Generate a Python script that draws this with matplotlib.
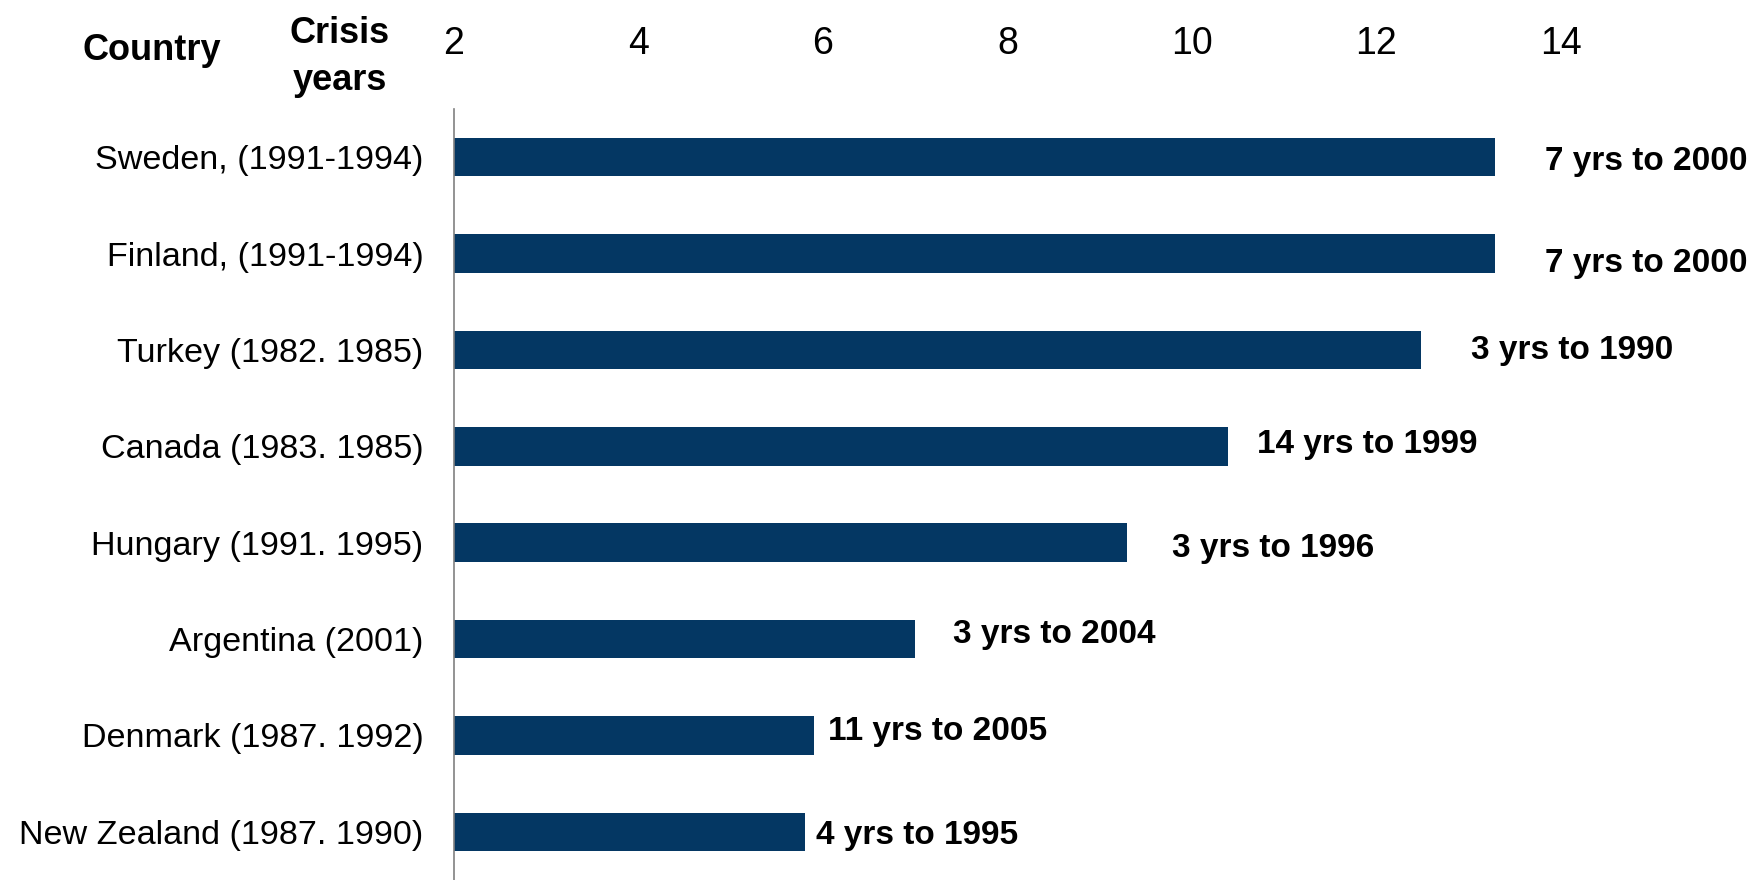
import matplotlib.pyplot as plt
import numpy as np

# ------------------------------------------------------------
# Datos
# ------------------------------------------------------------
countries = [
    "Sweden, (1991-1994)",
    "Finland, (1991-1994)",
    "Turkey (1982. 1985)",
    "Canada (1983. 1985)",
    "Hungary (1991. 1995)",
    "Argentina (2001)",
    "Denmark (1987. 1992)",
    "New Zealand (1987. 1990)",
]
values = [13.28, 13.28, 12.48, 10.39, 9.29, 7.0, 5.9, 5.8]
labels = [
    "7 yrs to 2000",
    "7 yrs to 2000",
    "3 yrs to 1990",
    "14 yrs to 1999",
    "3 yrs to 1996",
    "3 yrs to 2004",
    "11 yrs to 2005",
    "4 yrs to 1995",
]
xticks = [2, 4, 6, 8, 10, 12, 14]

# desplazamiento de cada etiqueta (puntos)
label_dx = [36, 36, 36, 21, 33, 27, 10, 8]
label_dy = [-3, -7, -0.5, 1, -4.5, 3, 2.5, -3]

bar_color = "#043763"
plt.rcParams["font.family"] = ["Liberation Sans", "DejaVu Sans"]

# ------------------------------------------------------------
# Figura
# ------------------------------------------------------------
fig = plt.figure(figsize=(17.65, 8.8), dpi=100)
ax = fig.add_axes([454 / 1765, 0.0, (1561 - 454) / 1765, 1 - 109 / 880])

y = np.arange(len(countries))
ax.barh(y, [v - 2 for v in values], left=2, height=0.40, color=bar_color)

ax.set_xlim(2, 14)
ax.set_ylim(len(countries) - 0.5, -0.5)

ax.set_yticks(y)
ax.set_yticklabels(countries, fontsize=24.6)
ax.set_xticks(xticks)
ax.set_xticklabels([str(t) for t in xticks], fontsize=27)
ax.xaxis.tick_top()
ax.tick_params(axis="x", length=0, pad=34)
ax.tick_params(axis="y", length=0, pad=22)

for side in ["top", "right", "bottom"]:
    ax.spines[side].set_visible(False)
ax.spines["left"].set_color("#808080")
ax.spines["left"].set_linewidth(1.2)

for yi, v, txt, dx, dy in zip(y, values, labels, label_dx, label_dy):
    ax.annotate(txt, xy=(v, yi), xytext=(dx, dy), textcoords="offset points",
                ha="left", va="center", fontsize=24, fontweight="bold",
                annotation_clip=False)

# encabezados de columnas
fig.text(152 / 1765, 1 - 50 / 880, "Country", ha="center", va="center",
         fontsize=26, fontweight="bold")
fig.text(340 / 1765, 1 - 57 / 880, "Crisis\nyears", ha="center", va="center",
         fontsize=26, fontweight="bold", linespacing=1.45)

plt.savefig("out.png", dpi=100)
plt.close()
